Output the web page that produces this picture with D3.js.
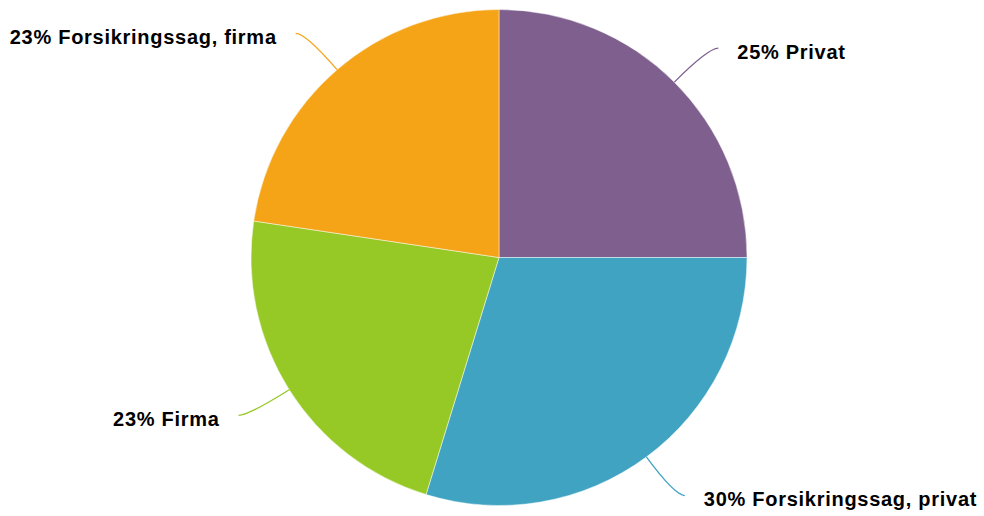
<!DOCTYPE html>
<html>
<head>
<meta charset="utf-8">
<script src="https://cdn.jsdelivr.net/npm/d3@7/dist/d3.min.js"></script>
<style>
  html, body { margin: 0; padding: 0; background: #fff; }
  svg { display: block; }
  text { font-family: "Liberation Sans", Arial, Helvetica, sans-serif; font-weight: bold; }
</style>
</head>
<body>
<svg id="chart" width="984" height="516"></svg>
<script>
const categories = ["Privat", "Forsikringssag, privat", "Firma", "Forsikringssag, firma"];
const values = [25, 29.75, 22.6, 22.65];
const colors = ["#7e5f8e", "#40a3c2", "#97c926", "#f5a418"];

const W = 984, H = 516;
const cx = 499, cy = 257.5, R = 248;
const svg = d3.select("#chart");
const g = svg.append("g").attr("transform", `translate(${cx},${cy})`);

const data = categories.map((c, i) => ({ name: c, value: values[i], color: colors[i] }));
const total = d3.sum(values);
const pie = d3.pie().value(d => d.value).sort(null);
const arcs = pie(data);
const arc = d3.arc().innerRadius(0).outerRadius(R);

g.selectAll("path.slice").data(arcs).enter().append("path")
  .attr("class", "slice")
  .attr("d", arc)
  .attr("fill", d => d.data.color)
  .attr("stroke", "rgba(255,255,255,0.6)")
  .attr("stroke-width", 0.8);

const ctrlR = R + 48, tail = 10, gap = 19;
arcs.forEach(d => {
  const a = (d.startAngle + d.endAngle) / 2;
  const sx = Math.sin(a), sy = -Math.cos(a);
  const p0 = [R * sx, R * sy];
  const pc = [ctrlR * sx, ctrlR * sy];
  const side = sx >= 0 ? 1 : -1;
  const p1 = [pc[0] + side * tail, pc[1]];
  g.append("path")
    .attr("d", `M${p0[0]},${p0[1]} Q${pc[0]},${pc[1]} ${p1[0]},${p1[1]}`)
    .attr("fill", "none")
    .attr("stroke", d.data.color)
    .attr("stroke-width", 1.3);
  const pct = Math.round(d.data.value / total * 100);
  g.append("text")
    .attr("x", p1[0] + side * gap)
    .attr("y", p1[1] + 10.5)
    .attr("text-anchor", side > 0 ? "start" : "end")
    .attr("font-size", "20px")
    .attr("letter-spacing", "0.72px")
    .attr("fill", "#000")
    .text(`${pct}% ${d.data.name}`);
});
</script>
</body>
</html>
